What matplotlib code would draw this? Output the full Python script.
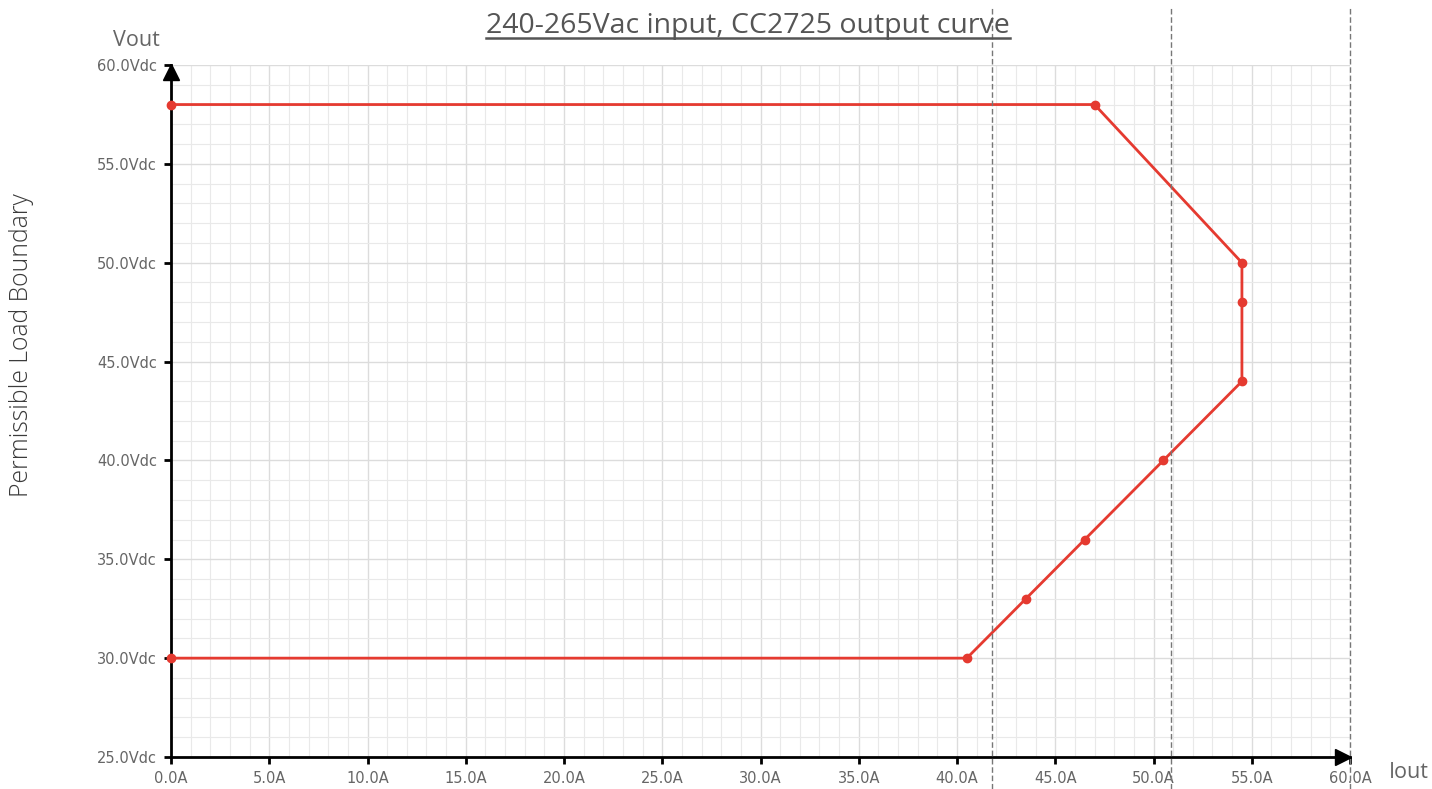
import matplotlib
matplotlib.use("Agg")
import matplotlib.pyplot as plt
from matplotlib.ticker import MultipleLocator, FuncFormatter
from matplotlib.transforms import blended_transform_factory, offset_copy

# Data
iout = [0, 47, 54.5, 54.5, 54.5, 50.5, 46.5, 43.5, 40.5, 0]
vout = [58, 58, 50, 48, 44, 40, 36, 33, 30, 30]
dashed_x = [41.8, 50.9, 60.0]
title = "240-265Vac input, CC2725 output curve"

fig = plt.figure(figsize=(14.32, 7.89), dpi=100)
ax = fig.add_axes([171/1432, 1-757/789, (1350-171)/1432, (757-65)/789])

ax.set_xlim(0, 60)
ax.set_ylim(25, 60)
ax.xaxis.set_major_locator(MultipleLocator(5))
ax.xaxis.set_minor_locator(MultipleLocator(1))
ax.yaxis.set_major_locator(MultipleLocator(5))
ax.yaxis.set_minor_locator(MultipleLocator(1))
ax.xaxis.set_major_formatter(FuncFormatter(lambda v, p: f"{v:.1f}A"))
ax.yaxis.set_major_formatter(FuncFormatter(lambda v, p: f"{v:.1f}Vdc"))
ax.grid(which="major", color="#dcdcdc", lw=1.0)
ax.grid(which="minor", color="#e9e9e9", lw=0.8)
ax.set_axisbelow(True)
for s in ["top", "right"]:
    ax.spines[s].set_visible(False)
for s in ["left", "bottom"]:
    ax.spines[s].set_color("black")
    ax.spines[s].set_linewidth(2)
ax.tick_params(which="major", length=5, width=2, color="black", labelsize=10.5,
               labelcolor="#666666", pad=5)
ax.tick_params(which="minor", length=0)

# arrows
ax.plot(1, 0, ">k", ms=11, transform=offset_copy(ax.transAxes, fig, x=-7, y=0, units="dots"),
        clip_on=False, zorder=7)
ax.plot(0, 1, "^k", ms=11, transform=offset_copy(ax.transAxes, fig, x=0, y=-7, units="dots"),
        clip_on=False, zorder=7)

ax.plot(iout, vout, color="#e53a30", lw=2, marker="o", ms=6, clip_on=False, zorder=5)

# dashed vertical lines
tr = blended_transform_factory(ax.transData, fig.transFigure)
for x in dashed_x:
    ax.plot([x, x], [0, 1 - 8/789], color="#777777", lw=1, ls=(0, (4, 2)),
            transform=tr, clip_on=False, zorder=6)

fig.text(22/1432, 1-345/789, "Permissible Load Boundary", rotation=90, ha="center", va="center",
         fontsize=17.8, color="#3a3a3a", family="Open Sans", fontweight="light")
fig.text(136/1432, 1-40/789, "Vout", ha="center", va="center", fontsize=15.5, color="#666666",
         family="Open Sans")
fig.text(1409/1432, 1-773/789, "Iout", ha="center", va="center", fontsize=15.5, color="#666666",
         family="Open Sans")
t = fig.text(748/1432, 1-26/789, title, ha="center", va="center", fontsize=20.5,
             color="#555555", family="Open Sans")

fig.canvas.draw()
bb = t.get_window_extent().transformed(fig.transFigure.inverted())
fig.add_artist(plt.Line2D([bb.x0, bb.x1], [bb.y0 + 0.003, bb.y0 + 0.003], color="#555555",
                          lw=1.8, transform=fig.transFigure))

fig.savefig("out.png", dpi=100)
